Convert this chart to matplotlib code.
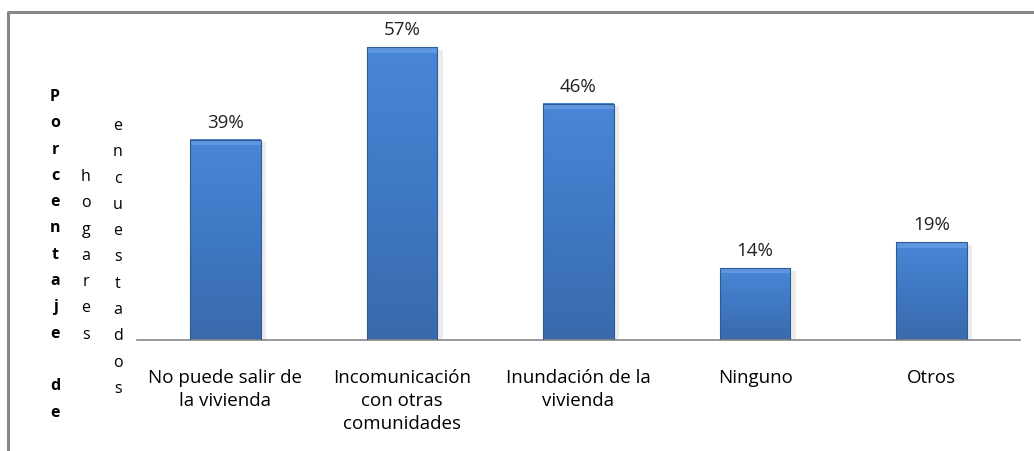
import numpy as np
import matplotlib.pyplot as plt
from matplotlib.colors import LinearSegmentedColormap

categories = ['No puede salir de\nla vivienda', 'Incomunicación\ncon otras\ncomunidades',
              'Inundación de la\nvivienda', 'Ninguno', 'Otros']
values = [39, 57, 46, 14, 19]
ylabel_cols = ['Porcentaje de', 'hogares', 'encuestados']

plt.rcParams['font.family'] = ['Open Sans', 'DejaVu Sans']

fig = plt.figure(figsize=(10.34, 4.52), dpi=100)

# outer chart frame (top + left visible)
frame = fig.add_axes([0, 0, 1, 1])
frame.set_xlim(0, 1034)
frame.set_ylim(452, 0)
frame.axis('off')
frame.plot([8, 8, 1034], [452, 13, 13], color='#878787', lw=2.2)

# vertical letters y-label, one column per word
col_x = [55, 86, 118]
col_y0 = [97, 177, 126]
weights = ['bold', 'normal', 'normal']
for word, x, y0, w in zip(ylabel_cols, col_x, col_y0, weights):
    for i, ch in enumerate(word):
        if ch != ' ':
            frame.text(x, y0 + i * 26.3, ch, ha='center', va='center',
                       fontsize=11.5, fontweight=w, color='black')

ax = fig.add_axes([137 / 1034, 1 - 341 / 452, (1020 - 137) / 1034, (341 - 33) / 452])
ax.set_xlim(-0.5, len(values) - 0.5)
ax.set_ylim(0, 60)
for s in ['top', 'right', 'left']:
    ax.spines[s].set_visible(False)
ax.spines['bottom'].set_color('#878787')
ax.spines['bottom'].set_linewidth(1.2)
ax.set_yticks([])
ax.set_xticks(range(len(values)))
ax.set_xticklabels(categories, fontsize=13.5, linespacing=1.38)
ax.tick_params(axis='x', length=0, pad=20)

cmap = LinearSegmentedColormap.from_list('bar', ['#396aab', '#3f78c4', '#4a86d6'])
grad = np.linspace(0, 1, 256).reshape(-1, 1)
bw = 0.4
bars = ax.bar(range(len(values)), values, width=bw, color='none',
              edgecolor='#2f5a94', linewidth=0.8, zorder=3)
for b, v in zip(bars, values):
    x0 = b.get_x()
    ax.imshow(grad, extent=[x0, x0 + bw, 0, v], aspect='auto', cmap=cmap,
              origin='lower', zorder=2)
    # soft shadow at right
    ax.fill_between([x0 + bw, x0 + bw + 0.03], 0, v - 0.5, color='#ececec', zorder=1, lw=0)
    # top bevel highlight
    ax.fill_between([x0, x0 + bw], v - 1.0, v, color='#5e97e0', zorder=2.5, lw=0)
    ax.text(x0 + bw / 2, v + 1.8, f'{v}%', ha='center', va='bottom',
            fontsize=13.5, color='#222222')

fig.savefig('out.png', dpi=100)
